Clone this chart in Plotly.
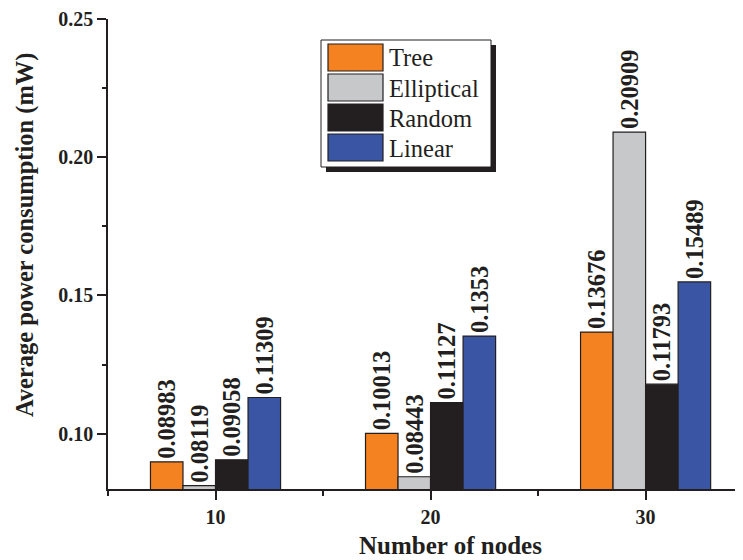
import plotly.graph_objects as go

nodes = [10, 20, 30]
series_names = ["Tree", "Elliptical", "Random", "Linear"]
tree = [0.08983, 0.10013, 0.13676]
elliptical = [0.08119, 0.08443, 0.20909]
random_ = [0.09058, 0.11127, 0.11793]
linear = [0.11309, 0.1353, 0.15489]
series_values = [tree, elliptical, random_, linear]
colors = ["#F58220", "#C7C8CA", "#231F20", "#3A55A4"]

OFF = 8  # page body margin
W, H = 743 - OFF, 560 - OFF
# plot area in screen pixels: x 108..743, y 19..489
L, R, T, B = 108 - OFF, 0, 19 - OFF, 560 - 489
PW, PH = W - L - R, H - T - B

def px(x):
    return (x - OFF - L) / PW

def py(y):
    return 1 - (y - OFF - T) / PH

FONT = "Liberation Serif"

fig = go.Figure()
for name, vals, col in zip(series_names, series_values, colors):
    fig.add_trace(go.Bar(
        x=nodes, y=vals, name=name,
        marker=dict(color=col, line=dict(color="#231F20", width=1.2)),
        text=[f"{v:.5g}" for v in vals],
        textposition="outside", textangle=-90,
        textfont=dict(family=FONT, size=24.5, color="#231F20", weight="bold"),
        constraintext="none", cliponaxis=False,
        showlegend=False,
    ))

shapes = []
annotations = []
# legend box with shadow
lx0, lx1, ly0, ly1 = 321, 491, 40, 167
shapes.append(dict(type="rect", xref="paper", yref="paper",
                   x0=px(lx0 + 5), x1=px(lx1 + 5), y0=py(ly1 + 5), y1=py(ly0 + 5),
                   fillcolor="#231F20", line=dict(width=0), layer="above"))
shapes.append(dict(type="rect", xref="paper", yref="paper",
                   x0=px(lx0), x1=px(lx1), y0=py(ly1), y1=py(ly0),
                   fillcolor="white", line=dict(color="#231F20", width=1), layer="above"))
for i, (name, col) in enumerate(zip(series_names, colors)):
    top = 44 + i * 30
    shapes.append(dict(type="rect", xref="paper", yref="paper",
                       x0=px(328), x1=px(383), y0=py(top + 27), y1=py(top),
                       fillcolor=col, line=dict(color="#231F20", width=1.2), layer="above"))
    annotations.append(dict(xref="paper", yref="paper", x=px(387), y=py(top + 14),
                            xanchor="left", yanchor="middle", showarrow=False,
                            text=name, font=dict(family=FONT, size=24.5, color="#231F20")))

annotations.append(dict(xref="paper", yref="paper", x=px(450), y=py(545),
                        xanchor="center", yanchor="middle", showarrow=False,
                        text="<b>Number of nodes</b>",
                        font=dict(family=FONT, size=25, color="#231F20")))
annotations.append(dict(xref="paper", yref="paper", x=px(25), y=py(235),
                        xanchor="center", yanchor="middle", showarrow=False, textangle=-90,
                        text="<b>Average power consumption (mW)</b>",
                        font=dict(family=FONT, size=24.5, color="#231F20")))

fig.update_layout(
    width=W, height=H,
    margin=dict(l=L, r=R, t=T, b=B),
    plot_bgcolor="white", paper_bgcolor="white",
    barmode="group", bargap=0.395, bargroupgap=0,
    shapes=shapes, annotations=annotations,
    showlegend=False,
)
fig.update_xaxes(
    range=[5, 34.53], tickmode="linear", tick0=10, dtick=10,
    showline=True, linecolor="#231F20", linewidth=1.5,
    ticks="outside", ticklen=9, tickwidth=1.5, tickcolor="#231F20",
    minor=dict(dtick=5, tick0=5, ticks="outside", ticklen=5, tickwidth=1.5, tickcolor="#231F20"),
    showgrid=False, zeroline=False,
    tickfont=dict(family=FONT, size=20, color="#231F20", weight="bold"),
)
fig.update_yaxes(
    range=[0.08, 0.25], tickmode="linear", tick0=0.1, dtick=0.05, tickformat=".2f",
    showline=True, linecolor="#231F20", linewidth=1.5,
    ticks="outside", ticklen=9, tickwidth=1.5, tickcolor="#231F20",
    minor=dict(dtick=0.025, tick0=0.1, ticks="outside", ticklen=4, tickwidth=1.5, tickcolor="#231F20"),
    showgrid=False, zeroline=False,
    tickfont=dict(family=FONT, size=20, color="#231F20", weight="bold"),
)

fig.write_html("out.html")
